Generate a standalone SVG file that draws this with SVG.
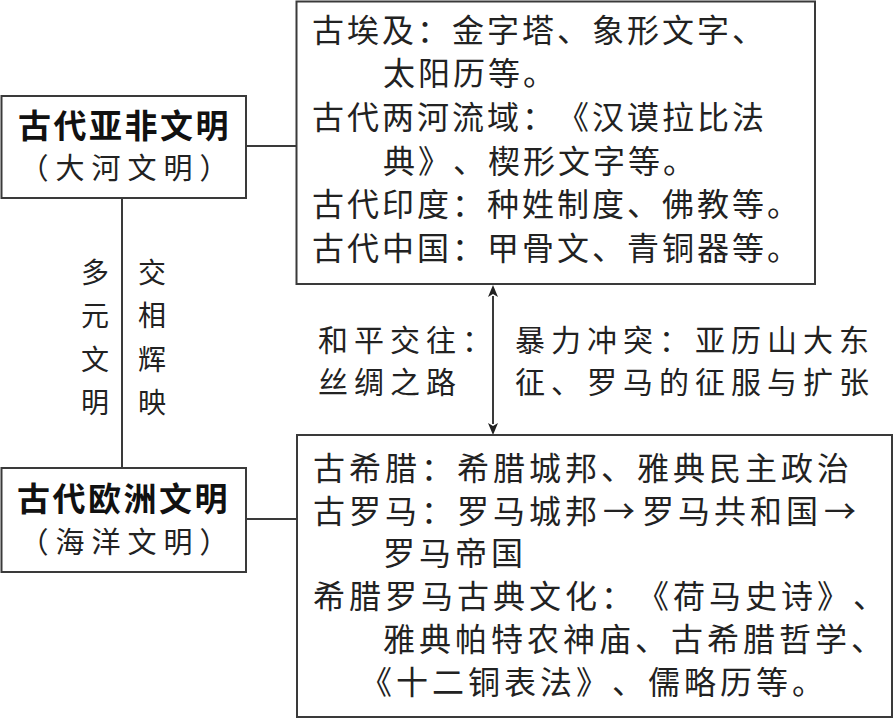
<svg xmlns="http://www.w3.org/2000/svg" width="894" height="720" viewBox="0 0 894 720">
<defs>
<style>
.box{fill:#fff;stroke:#3a3a3a;stroke-width:2}
.ln{fill:none;stroke:#3a3a3a;stroke-width:2}
.t{font-family:"Noto Sans CJK SC","Noto Sans CJK JP",sans-serif;fill:#222;text-spacing-trim:space-all;font-kerning:none}
.tb{font-size:32px;letter-spacing:3px}
.bb{font-size:32px;letter-spacing:4px}
.ar{letter-spacing:7px}
.hd{font-size:33px;font-weight:bold;letter-spacing:2.5px;fill:#111}
.sub{font-size:29px;letter-spacing:7px}
.v{font-size:28px;text-anchor:middle}
.mid{font-size:30px;letter-spacing:6px}
</style>
<marker id="ah" viewBox="0 -6 12 12" markerWidth="12" markerHeight="12" markerUnits="userSpaceOnUse" refX="1" refY="0" orient="auto-start-reverse">
<path d="M0,-5 L12,0 L0,5 L3,0 Z" fill="#222"/>
</marker>
</defs>
<rect width="894" height="720" fill="#fff"/>

<g id="connectors">
<line class="ln" x1="246" y1="146" x2="297" y2="146"/>
<line class="ln" x1="122" y1="198" x2="122" y2="468"/>
<line class="ln" x1="246" y1="519" x2="297" y2="519"/>
<path class="ln" d="M493,296 L493,424" marker-start="url(#ah)" marker-end="url(#ah)"/>
</g>

<g id="asia-africa">
<rect class="box" x="1.5" y="96" width="244.5" height="102"/>
<text class="t hd" x="18" y="137.5">古代亚非文明</text>
<text class="t sub" x="19.5" y="179">（大河文明）</text>
</g>

<g id="europe">
<rect class="box" x="1.5" y="468" width="244.5" height="104"/>
<text class="t hd" x="17" y="510.5">古代欧洲文明</text>
<text class="t sub" x="19.5" y="553">（海洋文明）</text>
</g>

<g id="asia-africa-details">
<rect class="box" x="296.5" y="1.5" width="518.5" height="282.5"/>
<text class="t tb" x="312" y="41.5">古埃及：金字塔、象形文字、</text>
<text class="t tb" x="383" y="85">太阳历等。</text>
<text class="t tb" x="312" y="129">古代两河流域：《汉谟拉比法</text>
<text class="t tb" x="383" y="173">典》、楔形文字等。</text>
<text class="t tb" x="312" y="216">古代印度：种姓制度、佛教等。</text>
<text class="t tb" x="312" y="259.5">古代中国：甲骨文、青铜器等。</text>
</g>

<g id="europe-details">
<rect class="box" x="297" y="435" width="595" height="282"/>
<text class="t bb" x="313" y="480">古希腊：希腊城邦、雅典民主政治</text>
<text class="t bb" x="313" y="522.5">古罗马：罗马城邦<tspan class="ar" dx="2">→</tspan>罗马共和国<tspan class="ar" dx="2">→</tspan></text>
<text class="t bb" x="383" y="565">罗马帝国</text>
<text class="t bb" x="313" y="608">希腊罗马古典文化：《荷马史诗》、</text>
<text class="t bb" x="383" y="651">雅典帕特农神庙、古希腊哲学、</text>
<text class="t bb" x="360" y="694">《十二铜表法》、儒略历等。</text>
</g>

<g id="label-diverse">
<text class="t v" x="95" y="282.6">多</text>
<text class="t v" x="95" y="326">元</text>
<text class="t v" x="95" y="369.6">文</text>
<text class="t v" x="95" y="412.6">明</text>
<text class="t v" x="152" y="282.6">交</text>
<text class="t v" x="152" y="326">相</text>
<text class="t v" x="152" y="369.6">辉</text>
<text class="t v" x="152" y="412.6">映</text>
</g>

<g id="label-exchange">
<text class="t mid" x="318" y="350.5">和平交往：</text>
<text class="t mid" x="318" y="392.5">丝绸之路</text>
<text class="t mid" x="515" y="350.5">暴力冲突：亚历山大东</text>
<text class="t mid" x="515" y="392.5">征、罗马的征服与扩张</text>
</g>
</svg>
